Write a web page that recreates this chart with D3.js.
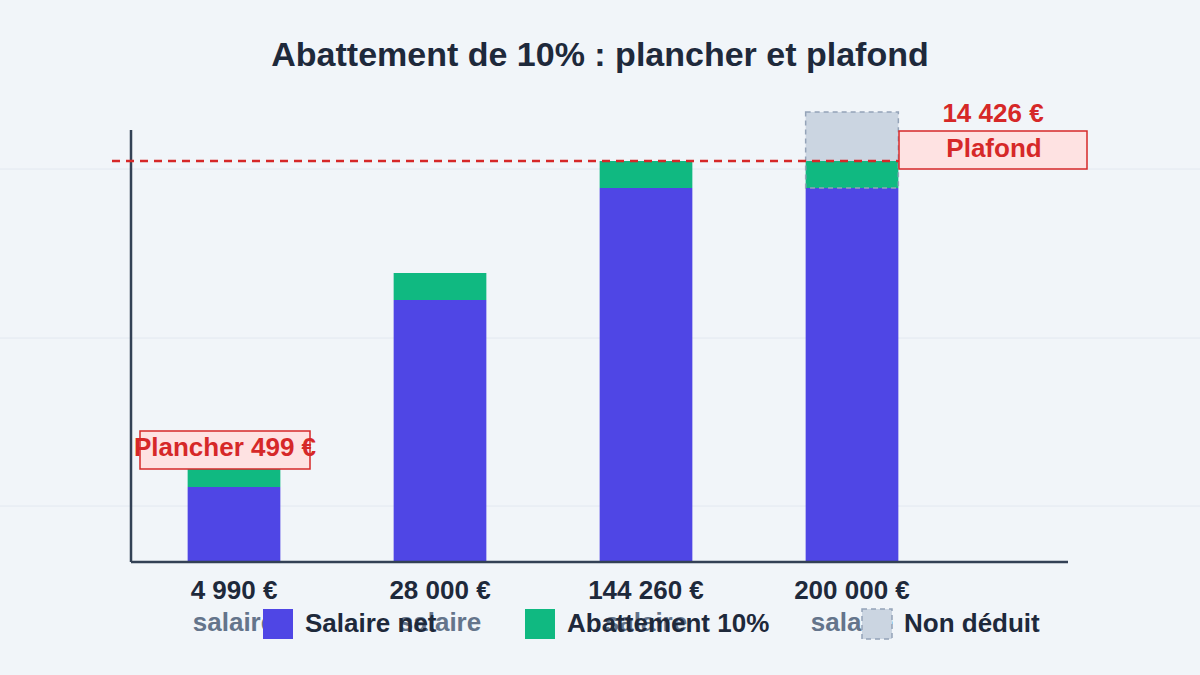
<!DOCTYPE html>
<html><head><meta charset="utf-8">
<script src="https://cdn.jsdelivr.net/npm/d3@7"></script>
<style>
html,body{margin:0;padding:0;background:#f1f5f9;}
svg{display:block;font-family:"Liberation Sans",Arial,Helvetica,sans-serif;}
</style></head>
<body>
<svg id="c" width="1200" height="675"></svg>
<script>
// ---- data (schematic display units) ----
const categories = ["4 990 €", "28 000 €", "144 260 €", "200 000 €"];
const subLabels = ["salaire", "salaire", "salaire", "salaire"];
const salaireNet = [75, 262, 374, 374];
const abattement = [18, 27, 27, 27];
const nonDeduit = [0, 0, 0, 49];
const plafondLevel = 401;
const gridValues = [56, 224, 393];
const legendLabels = ["Salaire net", "Abattement 10%", "Non déduit"];
const plancherLabel = "Plancher 499 €";
const plafondLabel = "Plafond";
const plafondValueLabel = "14 426 €";
const title = "Abattement de 10% : plancher et plafond";

const colors = {net: "#4f46e5", abat: "#10b981", non: "#cbd5e1", red: "#d62828", dark: "#1e293b", gray: "#64748b"};

const svg = d3.select("#c");
const W = 1200, H = 675;
svg.append("rect").attr("width", W).attr("height", H).attr("fill", "#f1f5f9");

const x = d3.scaleBand().domain(categories).range([131, 955]).paddingInner(0.55).paddingOuter(0.275);
const y = d3.scaleLinear().domain([0, 450]).range([562, 112]);

// gridlines
svg.append("g").selectAll("line").data(gridValues).join("line")
  .attr("x1", 0).attr("x2", W).attr("y1", d => y(d)).attr("y2", d => y(d))
  .attr("stroke", "#e2e8f0").attr("stroke-width", 1);

// title
svg.append("text").attr("x", 600).attr("y", 66).attr("text-anchor", "middle")
  .attr("font-size", 34).attr("font-weight", "bold").attr("fill", colors.dark).text(title);

// bars
const rows = categories.map((c, i) => ({c, net: salaireNet[i], ab: abattement[i], non: nonDeduit[i]}));
const g = svg.append("g");
g.selectAll(".net").data(rows).join("rect")
  .attr("x", d => x(d.c)).attr("width", x.bandwidth())
  .attr("y", d => y(d.net)).attr("height", d => y(0) - y(d.net)).attr("fill", colors.net);
g.selectAll(".ab").data(rows).join("rect")
  .attr("x", d => x(d.c)).attr("width", x.bandwidth())
  .attr("y", d => y(d.net + d.ab)).attr("height", d => y(d.net) - y(d.net + d.ab)).attr("fill", colors.abat);
const nonRows = rows.filter(d => d.non > 0);
g.selectAll(".non").data(nonRows).join("rect")
  .attr("x", d => x(d.c)).attr("width", x.bandwidth())
  .attr("y", d => y(d.net + d.ab + d.non)).attr("height", d => y(d.net + d.ab) - y(d.net + d.ab + d.non))
  .attr("fill", colors.non);
g.selectAll(".outline").data(nonRows).join("rect")
  .attr("x", d => x(d.c)).attr("width", x.bandwidth())
  .attr("y", d => y(d.net + d.ab + d.non)).attr("height", d => y(d.net) - y(d.net + d.ab + d.non))
  .attr("fill", "none").attr("stroke", "#94a3b8").attr("stroke-width", 1.5).attr("stroke-dasharray", "5,4");

// axes
svg.append("line").attr("x1", 131).attr("x2", 131).attr("y1", 130).attr("y2", y(0))
  .attr("stroke", "#334155").attr("stroke-width", 2.5);
svg.append("line").attr("x1", 131).attr("x2", 1068).attr("y1", y(0)).attr("y2", y(0))
  .attr("stroke", "#334155").attr("stroke-width", 2.5);

// plafond dashed line
svg.append("line").attr("x1", 112).attr("x2", 899).attr("y1", y(plafondLevel)).attr("y2", y(plafondLevel))
  .attr("stroke", colors.red).attr("stroke-width", 2.5).attr("stroke-dasharray", "8,6");

// plafond annotation
svg.append("rect").attr("x", 899).attr("y", 131).attr("width", 188).attr("height", 38)
  .attr("fill", "#fee2e2").attr("stroke", colors.red).attr("stroke-width", 1.5);
svg.append("text").attr("x", 994).attr("y", 157).attr("text-anchor", "middle")
  .attr("font-size", 26).attr("font-weight", "bold").attr("fill", colors.red).text(plafondLabel);
svg.append("text").attr("x", 993).attr("y", 122).attr("text-anchor", "middle")
  .attr("font-size", 26).attr("font-weight", "bold").attr("fill", colors.red).text(plafondValueLabel);

// plancher annotation
const b0 = rows[0];
svg.append("rect").attr("x", 140).attr("y", y(b0.net + b0.ab) - 38).attr("width", 170).attr("height", 38)
  .attr("fill", "#fee2e2").attr("stroke", colors.red).attr("stroke-width", 1.5);
svg.append("text").attr("x", 225).attr("y", y(b0.net + b0.ab) - 13).attr("text-anchor", "middle")
  .attr("font-size", 26).attr("font-weight", "bold").attr("fill", colors.red).text(plancherLabel);

// category labels
svg.append("g").selectAll("text").data(categories).join("text")
  .attr("x", d => x(d) + x.bandwidth() / 2).attr("y", 599).attr("text-anchor", "middle")
  .attr("font-size", 26).attr("font-weight", "bold").attr("fill", colors.dark).text(d => d);
svg.append("g").selectAll("text").data(categories).join("text")
  .attr("x", d => x(d) + x.bandwidth() / 2).attr("y", 631).attr("text-anchor", "middle")
  .attr("font-size", 26).attr("font-weight", "bold").attr("fill", colors.gray).text((d, i) => subLabels[i]);

// legend
const legX = [263, 525, 862];
const legFill = [colors.net, colors.abat, colors.non];
const leg = svg.append("g");
legendLabels.forEach((lab, i) => {
  const r = leg.append("rect").attr("x", legX[i]).attr("y", 609).attr("width", 30).attr("height", 30).attr("fill", legFill[i]);
  if (i === 2) r.attr("stroke", "#94a3b8").attr("stroke-width", 1.5).attr("stroke-dasharray", "5,4");
  leg.append("text").attr("x", legX[i] + 42).attr("y", 632).attr("font-size", 26).attr("font-weight", "bold")
    .attr("fill", colors.dark).text(lab);
});
</script>
</body></html>
